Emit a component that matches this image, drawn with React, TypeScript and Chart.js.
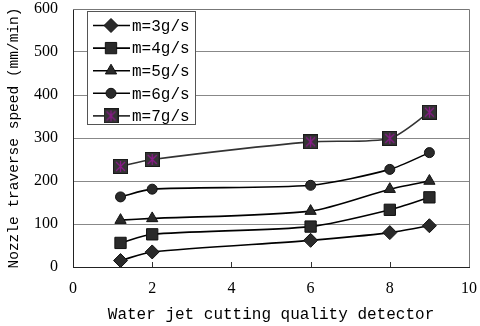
import React, { useEffect, useRef } from 'react';
import { Chart, registerables } from 'chart.js';
import { drawPoint } from 'chart.js/helpers';

Chart.register(...registerables);

// ---- data ----
const xValues = [1.2, 2, 6, 8, 9];
const seriesLabels = ['m=3g/s', 'm=4g/s', 'm=5g/s', 'm=6g/s', 'm=7g/s'];
const m3 = [15, 35, 62, 80, 96];
const m4 = [56, 76, 94, 133, 162];
const m5 = [109, 113, 130, 181, 200];
const m6 = [163, 181, 190, 227, 266];
const m7 = [234, 250, 291, 299, 360];
const xMin = 0, xMax = 10, xStep = 2;
const yMin = 0, yMax = 600, yStep = 100;
const xTitle = 'Water jet cutting quality detector';
const yTitle = 'Nozzle traverse speed (mm/min)';

function makeStarSquare(size: number): HTMLCanvasElement {
  const c = document.createElement('canvas');
  c.width = size;
  c.height = size;
  const g = c.getContext('2d')!;
  g.fillStyle = '#343434';
  g.fillRect(0, 0, size, size);
  g.strokeStyle = '#1a1a1a';
  g.lineWidth = 1;
  g.strokeRect(0.5, 0.5, size - 1, size - 1);
  g.strokeStyle = '#8a1a8a';
  g.lineWidth = 1.3;
  g.beginPath();
  g.moveTo(size / 2, 2);
  g.lineTo(size / 2, size - 2);
  g.moveTo(3, 3);
  g.lineTo(size - 3, size - 3);
  g.moveTo(size - 3, 3);
  g.lineTo(3, size - 3);
  g.stroke();
  return c;
}

const framePlugin = {
  id: 'frame',
  afterDatasetsDraw(chart: any) {
    const { ctx, chartArea } = chart;
    const { left, right, top, bottom } = chartArea;
    ctx.save();
    ctx.strokeStyle = '#777';
    ctx.lineWidth = 1;
    ctx.beginPath();
    ctx.moveTo(left, top + 0.5);
    ctx.lineTo(right + 0.5, top + 0.5);
    ctx.lineTo(right + 0.5, bottom);
    ctx.stroke();
    // inward ticks on x axis
    const xs = chart.scales.x;
    ctx.strokeStyle = '#333';
    ctx.beginPath();
    for (let v = xMin + xStep; v < xMax; v += xStep) {
      const px = Math.round(xs.getPixelForValue(v)) + 0.5;
      ctx.moveTo(px, bottom);
      ctx.lineTo(px, bottom - 5);
    }
    ctx.stroke();
    ctx.restore();
  },
};

const legendPlugin = {
  id: 'boxLegend',
  afterDraw(chart: any) {
    const { ctx, chartArea } = chart;
    const bx = chartArea.left + 14;
    const by = chartArea.top + 2;
    const bw = 108;
    const bh = 113;
    ctx.save();
    ctx.fillStyle = '#fff';
    ctx.fillRect(bx, by, bw, bh);
    ctx.strokeStyle = '#555';
    ctx.lineWidth = 1;
    ctx.strokeRect(bx + 0.5, by + 0.5, bw, bh);
    chart.data.datasets.forEach((ds: any, i: number) => {
      const y = by + 14.5 + i * 22.6;
      ctx.strokeStyle = ds.borderColor;
      ctx.lineWidth = 1.6;
      ctx.beginPath();
      ctx.moveTo(bx + 6, y);
      ctx.lineTo(bx + 43, y);
      ctx.stroke();
      ctx.fillStyle = ds.pointBackgroundColor;
      ctx.strokeStyle = ds.pointBorderColor;
      ctx.lineWidth = 1;
      drawPoint(ctx, { pointStyle: ds.pointStyle, radius: ds.pointRadius, rotation: 0, borderWidth: 1 } as any, bx + 24, y);
      ctx.fillStyle = '#000';
      ctx.font = '16px "Liberation Mono"';
      ctx.textBaseline = 'middle';
      ctx.textAlign = 'left';
      ctx.fillText(ds.label, bx + 45, y + 1);
    });
    ctx.restore();
  },
};

export default function App() {
  const ref = useRef<HTMLCanvasElement | null>(null);
  useEffect(() => {
    if (!ref.current) return;
    const star = makeStarSquare(15);
    const styles: any[] = ['rectRot', 'rect', 'triangle', 'circle', star];
    const radii = [7, 8, 6.5, 5, 7];
    const values = [m3, m4, m5, m6, m7];
    const lineColors = ['#000', '#000', '#000', '#000', '#333'];
    const chart = new Chart(ref.current, {
      type: 'line',
      data: {
        datasets: values.map((vals, i) => ({
          label: seriesLabels[i],
          data: vals.map((y, j) => ({ x: xValues[j], y })),
          borderColor: lineColors[i],
          borderWidth: 1.6,
          pointStyle: styles[i],
          pointRadius: radii[i],
          pointBackgroundColor: '#2a2a2a',
          pointBorderColor: '#111',
          pointBorderWidth: 1,
          tension: 0.25,
          fill: false,
        })),
      },
      options: {
        animation: false,
        responsive: false,
        maintainAspectRatio: false,
        layout: { padding: { left: 0, right: 11, top: 8, bottom: 0 } },
        plugins: { legend: { display: false }, tooltip: { enabled: false } },
        scales: {
          x: {
            type: 'linear',
            min: xMin,
            max: xMax,
            ticks: { stepSize: xStep, color: '#000', padding: 12, font: { family: '"Liberation Serif"', size: 16 } },
            grid: { display: false, drawTicks: false },
            border: { display: true, color: '#222', width: 1 },
            title: { display: true, text: xTitle, color: '#000', padding: { top: 0, bottom: 2 }, font: { family: '"Liberation Mono"', size: 16 } },
            afterFit: (s: any) => { s.height = 59; s.paddingLeft = 0; s.paddingRight = 0; },
          },
          y: {
            type: 'linear',
            min: yMin,
            max: yMax,
            ticks: { stepSize: yStep, color: '#000', padding: 15, font: { family: '"Liberation Serif"', size: 16 } },
            grid: { color: '#888', drawTicks: false, lineWidth: 1 },
            border: { display: true, color: '#222', width: 1 },
            title: { display: true, text: yTitle, color: '#000', padding: { top: 5, bottom: 0 }, font: { family: '"Liberation Mono"', size: 14.5 } },
            afterFit: (s: any) => { s.width = 73; s.paddingTop = 0; s.paddingBottom = 0; },
          },
        },
      },
      plugins: [framePlugin, legendPlugin],
    });
    return () => chart.destroy();
  }, []);
  return (
    <div style={{ position: 'fixed', left: 0, top: 0, width: 480, height: 326, background: '#fff' }}>
      <canvas ref={ref} width={480} height={326} style={{ width: 480, height: 326 }} />
    </div>
  );
}
